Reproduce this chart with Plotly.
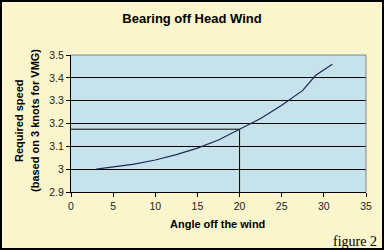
import plotly.graph_objects as go

# Data
angle = [3.0, 5.0, 7.5, 10.0, 12.5, 15.0, 17.5, 20.0, 22.5, 25.0, 27.5, 29.0, 31.0]
speed = [3.000, 3.010, 3.022, 3.040, 3.064, 3.092, 3.128, 3.175, 3.222, 3.280, 3.345, 3.410, 3.460]

# Read-off marker at 20 degrees
ref_x = [0, 20, 20]
ref_y = [3.175, 3.175, 2.9]

x_ticks = [0, 5, 10, 15, 20, 25, 30, 35]
y_ticks = [2.9, 3.0, 3.1, 3.2, 3.3, 3.4, 3.5]

W, H = 387, 252
L, R, T, B = 71, 21, 55, 60
pw, ph = W - L - R, H - T - B

def px(x):
    return (x - L) / pw

def py(y):
    return (H - B - y) / ph

fig = go.Figure()
fig.add_trace(go.Scatter(x=ref_x, y=ref_y, mode="lines",
                         line=dict(color="black", width=1), hoverinfo="skip"))
fig.add_trace(go.Scatter(x=angle, y=speed, mode="lines",
                         line=dict(color="#1c2a55", width=1.2)))

axis_font = dict(family="Liberation Sans, Arial", size=10.5, color="#222")
fig.update_layout(
    width=W, height=H,
    margin=dict(l=L, r=R, t=T, b=B),
    paper_bgcolor="#FAF5CC",
    plot_bgcolor="#C6E2EA",
    showlegend=False,
    title=dict(text="<b>Bearing off Head Wind</b>", x=(192) / W, xanchor="center",
               y=1 - 18 / H, yanchor="middle",
               font=dict(family="Liberation Sans, Arial", size=13, color="black")),
    xaxis=dict(range=[0, 35], tickvals=x_ticks, showgrid=False, zeroline=False,
               showline=True, linecolor="black", linewidth=1,
               ticks="outside", ticklen=4, tickcolor="black", tickfont=axis_font),
    yaxis=dict(range=[2.9, 3.5], tickvals=y_ticks, showgrid=True, gridcolor="black",
               gridwidth=1, zeroline=False, showline=True, linecolor="black",
               linewidth=1, ticks="outside", ticklen=4, tickcolor="black",
               tickfont=axis_font),
)

shapes = [
    # plot area top/right border
    dict(type="line", xref="paper", yref="paper", x0=0, x1=1, y0=1, y1=1,
         line=dict(color="#7f8a8a", width=1), layer="above"),
    dict(type="line", xref="paper", yref="paper", x0=1, x1=1, y0=0, y1=1,
         line=dict(color="#7f8a8a", width=1), layer="above"),
    # white strips outside the frame
    dict(type="rect", xref="paper", yref="paper", x0=px(0), x1=px(W), y0=py(H), y1=py(249.5),
         fillcolor="white", line=dict(width=0), layer="above"),
    dict(type="rect", xref="paper", yref="paper", x0=px(383.5), x1=px(W), y0=py(H), y1=py(0),
         fillcolor="white", line=dict(width=0), layer="above"),
    # black chart frame
    dict(type="rect", xref="paper", yref="paper", x0=px(1), x1=px(383), y0=py(249), y1=py(1),
         line=dict(color="black", width=2), fillcolor="rgba(0,0,0,0)", layer="above"),
]
fig.update_layout(shapes=shapes)

title_font = dict(family="Liberation Sans, Arial", size=11, color="black")
fig.add_annotation(text="<b>Angle off the wind</b>", xref="paper", yref="paper",
                   x=px(217), y=py(224), showarrow=False, font=title_font,
                   xanchor="center", yanchor="middle")
fig.add_annotation(text="<b>Required speed</b>", xref="paper", yref="paper",
                   x=px(19), y=py(121), showarrow=False, font=title_font,
                   textangle=-90, xanchor="center", yanchor="middle")
fig.add_annotation(text="<b>(based on 3 knots for VMG)</b>", xref="paper", yref="paper",
                   x=px(35), y=py(121), showarrow=False, font=title_font,
                   textangle=-90, xanchor="center", yanchor="middle")
fig.add_annotation(text="figure 2", xref="paper", yref="paper",
                   x=px(355), y=py(241), showarrow=False,
                   font=dict(family="Liberation Serif, Times New Roman", size=14, color="black"),
                   xanchor="center", yanchor="middle")

fig.write_html("out.html")
